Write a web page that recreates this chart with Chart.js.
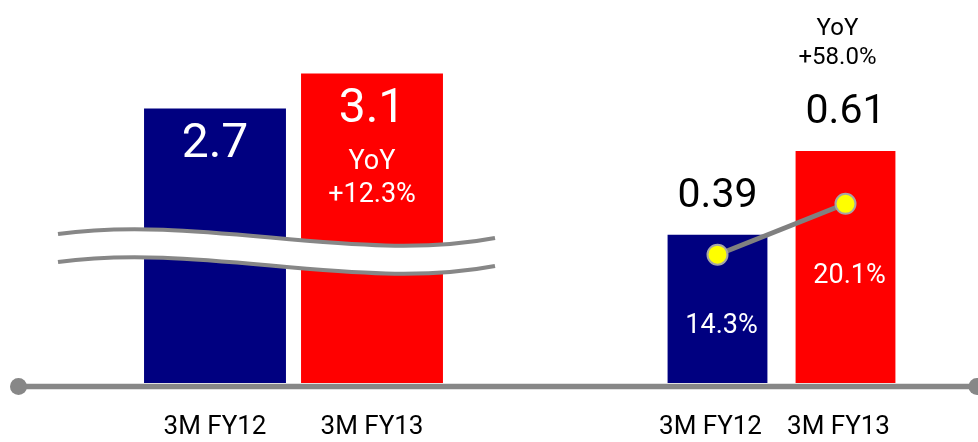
<!DOCTYPE html>
<html>
<head>
<meta charset="utf-8">
<script src="https://cdn.jsdelivr.net/npm/chart.js@4.4.1/dist/chart.umd.min.js"></script>
<style>
  body { margin: 0; background: #fff; }
  #wrap { position: relative; width: 978px; height: 442px; overflow: hidden; }
  canvas { position: absolute; top: 0; }
</style>
</head>
<body>
<div id="wrap">
  <canvas id="salesChart" width="500" height="442" style="left:0"></canvas>
  <canvas id="profitChart" width="478" height="442" style="left:500px"></canvas>
</div>
<script>
const periods = ["3M FY12", "3M FY13"];
const salesValues = [2.7, 3.1];
const profitValues = [0.39, 0.61];
const marginValues = [14.3, 20.1];
const salesYoY = ["YoY", "+12.3%"];
const profitYoY = ["YoY", "+58.0%"];

const barColors = ["#000080", "#ff0000"];
const axisGray = "#878787";

Chart.defaults.font.family = "Roboto, 'Open Sans', sans-serif";

// left bars sit on a broken axis, so their value axis starts below zero
const salesMin = -0.44;

// grey base line with a round end
function baseline(fromX, toX, dotX) {
  return {
    id: "baseline",
    beforeDatasetsDraw(chart) {
      const ctx = chart.ctx;
      const y = chart.chartArea.bottom + 3.5;
      ctx.save();
      ctx.strokeStyle = axisGray;
      ctx.fillStyle = axisGray;
      ctx.lineWidth = 5.5;
      ctx.beginPath();
      ctx.moveTo(fromX, y);
      ctx.lineTo(toX, y);
      ctx.stroke();
      ctx.beginPath();
      ctx.arc(dotX, y, 8.5, 0, Math.PI * 2);
      ctx.fill();
      ctx.restore();
    },
  };
}

// the wavy break across the left bars
const breakMark = {
  id: "breakMark",
  afterDatasetsDraw(chart) {
    const ctx = chart.ctx;
    const gap = 28;
    const wave = (dy) => {
      ctx.moveTo(58, 234 + dy);
      ctx.bezierCurveTo(200, 214 + dy, 360, 264 + dy, 495, 238 + dy);
    };
    ctx.save();
    ctx.beginPath();
    wave(0);
    ctx.lineTo(495, 238 + gap);
    ctx.bezierCurveTo(360, 264 + gap, 200, 214 + gap, 58, 234 + gap);
    ctx.closePath();
    ctx.fillStyle = "#fff";
    ctx.fill();
    ctx.strokeStyle = axisGray;
    ctx.lineWidth = 4;
    ctx.beginPath();
    wave(0);
    ctx.stroke();
    ctx.beginPath();
    wave(gap);
    ctx.stroke();
    ctx.restore();
  },
};

function text(ctx, str, x, y, size, color) {
  ctx.font = size + "px Roboto, 'Open Sans', sans-serif";
  ctx.fillStyle = color;
  ctx.textAlign = "center";
  ctx.textBaseline = "middle";
  ctx.fillText(str, x, y);
}

const salesLabels = {
  id: "salesLabels",
  afterDraw(chart) {
    const ctx = chart.ctx;
    const bars = chart.getDatasetMeta(0).data;
    ctx.save();
    bars.forEach((bar, i) => {
      text(ctx, salesValues[i].toFixed(1), bar.x, bar.y + 37, 48, "#fff");
    });
    const last = bars[1];
    text(ctx, salesYoY[0], last.x, last.y + 89, 27, "#fff");
    text(ctx, salesYoY[1], last.x, last.y + 122, 27, "#fff");
    ctx.restore();
  },
};

const profitLabels = {
  id: "profitLabels",
  afterDraw(chart) {
    const ctx = chart.ctx;
    const bars = chart.getDatasetMeta(1).data;
    const points = chart.getDatasetMeta(0).data;
    ctx.save();
    bars.forEach((bar, i) => {
      text(ctx, profitValues[i].toFixed(2), bar.x, bar.y - 38, 41, "#000");
      text(ctx, marginValues[i].toFixed(1) + "%", points[i].x + 4, points[i].y + 72, 27, "#fff");
    });
    const last = bars[1];
    text(ctx, profitYoY[0], last.x - 8, last.y - 122, 24, "#000");
    text(ctx, profitYoY[1], last.x - 8, last.y - 93, 24, "#000");
    ctx.restore();
  },
};

function xAxis(offset) {
  return {
    grid: { display: false, drawTicks: false },
    border: { display: false },
    ticks: { color: "#000", padding: 29, labelOffset: offset, font: { size: 26 } },
    afterFit: (scale) => { scale.height = 59; },
  };
}

new Chart(document.getElementById("salesChart"), {
  type: "bar",
  data: {
    labels: periods,
    datasets: [
      {
        data: salesValues,
        backgroundColor: barColors,
        base: salesMin,
        categoryPercentage: 1,
        barPercentage: 0.904,
      },
    ],
  },
  options: {
    responsive: false,
    animation: false,
    layout: { padding: { left: 136.5, right: 49.5, top: 0, bottom: 0 } },
    plugins: { legend: { display: false }, tooltip: { enabled: false } },
    scales: {
      x: xAxis(0),
      y: { display: false, min: salesMin, max: 3.94 },
    },
  },
  plugins: [baseline(18.5, 500, 18.5), breakMark, salesLabels],
});

new Chart(document.getElementById("profitChart"), {
  type: "bar",
  data: {
    labels: periods,
    datasets: [
      {
        type: "line",
        data: marginValues,
        yAxisID: "y2",
        order: 0,
        borderColor: "#808080",
        borderWidth: 5,
        pointRadius: 10,
        pointBackgroundColor: "#ffff00",
        pointBorderColor: "#a6a6a6",
        pointBorderWidth: 2,
      },
      {
        data: profitValues,
        backgroundColor: barColors,
        order: 1,
        categoryPercentage: 1,
        barPercentage: 0.78,
      },
    ],
  },
  options: {
    responsive: false,
    animation: false,
    layout: { padding: { left: 153.5, right: 68.5, top: 14, bottom: 0 } },
    plugins: { legend: { display: false }, tooltip: { enabled: false } },
    scales: {
      x: xAxis(-7),
      y: { display: false, min: 0, max: 0.97 },
      y2: { display: false, min: -0.3, max: 41.7 },
    },
  },
  plugins: [baseline(0, 477, 477), profitLabels],
});
</script>
</body>
</html>
